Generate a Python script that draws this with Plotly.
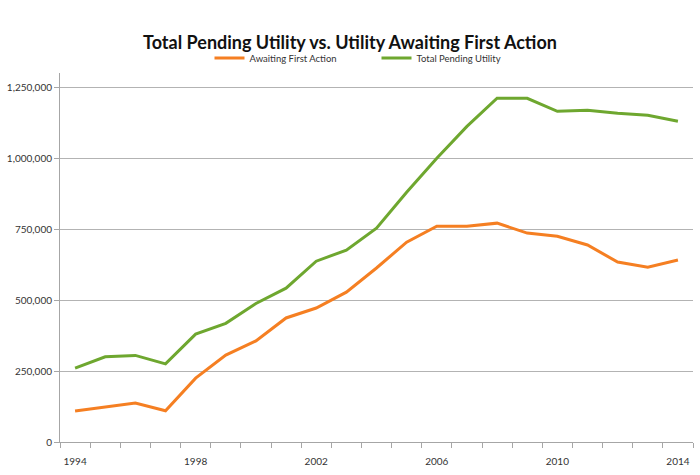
import plotly.graph_objects as go

years = list(range(1994, 2015))
awaiting_first_action = [109000, 123000, 137000, 110000, 225000, 306000, 356000, 437000, 472000, 528000,
                         613000, 704000, 760000, 760000, 771000, 736000, 725000, 694000, 634000, 616000, 641000]
total_pending = [260000, 300000, 305000, 275000, 380000, 418000, 488000, 542000, 637000, 676000,
                 753000, 880000, 1000000, 1112000, 1211000, 1211000, 1165000, 1169000, 1158000, 1151000, 1130000]
x_tick_years = [1994, 1998, 2002, 2006, 2010, 2014]
y_ticks = [0, 250000, 500000, 750000, 1000000, 1250000]

ORANGE = "#F57F22"
GREEN = "#6EA72F"
FONT = "Lato"

fig = go.Figure()
fig.add_trace(go.Scatter(x=years, y=awaiting_first_action, mode="lines", name="Awaiting First Action",
                         line=dict(color=ORANGE, width=3)))
fig.add_trace(go.Scatter(x=years, y=total_pending, mode="lines", name="Total Pending Utility",
                         line=dict(color=GREEN, width=3)))

fig.update_layout(
    width=700, height=475,
    margin=dict(l=60, r=7, t=73, b=33, autoexpand=False),
    paper_bgcolor="white", plot_bgcolor="white",
    font=dict(family=FONT, size=10, color="#333333"),
    title=dict(text="<b>Total Pending Utility vs. Utility Awaiting First Action</b>",
               x=0.5, xanchor="center", yref="container", y=1 - 43 / 475, yanchor="middle",
               font=dict(family=FONT, size=18, color="#111111")),
    legend=dict(orientation="h", x=0.5, xanchor="center", yref="container", y=1 - 58 / 475,
                yanchor="middle", font=dict(size=9.5, color="#333333"), itemwidth=30,
                entrywidth=122),
    showlegend=True,
)

fig.update_xaxes(
    range=[1993.5, 2014.5],
    tickmode="array", tickvals=x_tick_years, ticktext=[str(y) for y in x_tick_years],
    ticks="", showgrid=False, zeroline=False,
    showline=True, linecolor="#A6A6A6", linewidth=1,
    minor=dict(ticks="outside", tick0=1993.5, dtick=1, ticklen=5, tickcolor="#A6A6A6", showgrid=False),
    ticklabelstandoff=10,
    tickfont=dict(size=10, color="#333333"),
)
fig.update_yaxes(
    range=[0, 1300000],
    tickmode="array", tickvals=y_ticks, ticktext=[f"{v:,}" for v in y_ticks],
    ticks="outside", ticklen=5, tickcolor="#A6A6A6",
    showgrid=True, gridcolor="#B3B3B3", gridwidth=1,
    zeroline=False, showline=True, linecolor="#A6A6A6", linewidth=1,
    tickfont=dict(size=10, color="#333333"),
)

fig.write_html("out.html", config={"displayModeBar": False},
               post_script="document.body.style.margin='0';")
